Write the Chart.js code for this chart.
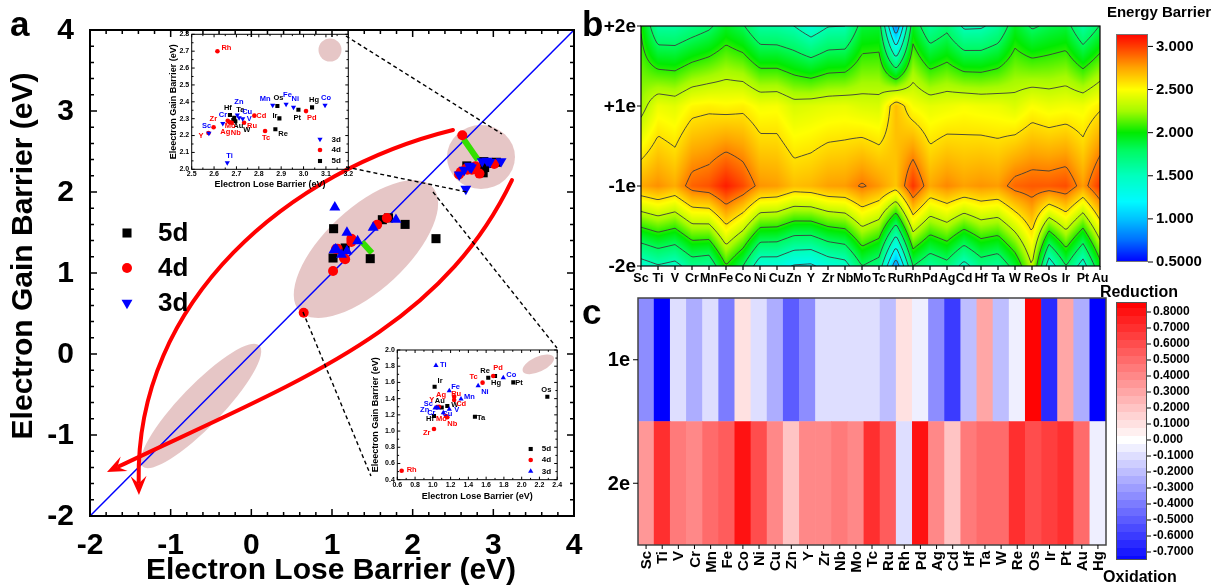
<!DOCTYPE html>
<html>
<head>
<meta charset="utf-8">
<title>Charge-state barriers of transition-metal dopants</title>
<script src="https://cdn.jsdelivr.net/npm/chart.js@4.4.1/dist/chart.umd.min.js"></script>
<style>
  html, body { margin: 0; padding: 0; background: #ffffff; }
  #figure { position: relative; width: 1212px; height: 586px; overflow: hidden; background: #ffffff; }
  #figure canvas { position: absolute; }
</style>
</head>
<body>
<div id="figure">
  <canvas id="panelA" width="590" height="586" style="left:0;top:0;width:590px;height:586px"></canvas>
  <canvas id="insetHigh" width="210" height="180" style="left:150px;top:20px;width:210px;height:180px"></canvas>
  <canvas id="insetLow" width="215" height="170" style="left:355px;top:335px;width:215px;height:170px"></canvas>
  <canvas id="panelB" width="637" height="292" style="left:575px;top:0;width:637px;height:292px"></canvas>
  <canvas id="panelC" width="637" height="306" style="left:575px;top:280px;width:637px;height:306px"></canvas>
</div>
<script>
const FONT = '"Liberation Sans", Arial, Helvetica, sans-serif';
const bold = px => `bold ${px}px ${FONT}`;

/* ---------- panel a : electron lose / gain barriers (eV) ---------- */
const el3d = ['Sc','Ti','V','Cr','Mn','Fe','Co','Ni','Cu','Zn'];
const el4d = ['Y','Zr','Nb','Mo','Tc','Ru','Rh','Pd','Ag','Cd'];
const el5d = ['Hf','Ta','W','Re','Os','Ir','Pt','Au','Hg'];

// upper group
const loseHi3d = [2.577,2.659,2.728,2.639,2.862,2.922,3.096,2.955,2.712,2.704];
const gainHi3d = [2.213,2.039,2.300,2.272,2.379,2.385,2.379,2.367,2.305,2.322];
const loseHi4d = [2.575,2.598,2.679,2.661,2.828,2.734,2.615,3.011,2.668,2.780];
const gainHi4d = [2.215,2.249,2.276,2.288,2.227,2.276,2.700,2.345,2.280,2.318];
const loseHi5d = [2.671,2.690,2.695,2.874,2.883,2.892,2.977,2.686,3.038];
const gainHi5d = [2.322,2.305,2.285,2.237,2.375,2.302,2.353,2.292,2.367];

// lower group
const loseLo3d = [1.043,1.035,1.185,1.060,1.317,1.185,1.793,1.510,1.118,1.025];
const gainLo3d = [1.292,1.810,1.270,1.285,1.395,1.498,1.658,1.560,1.226,1.283];
const loseLo4d = [1.050,1.013,1.163,1.148,1.560,1.240,0.649,1.680,1.070,1.240];
const gainLo4d = [1.295,1.025,1.170,1.185,1.597,1.424,0.510,1.680,1.300,1.383];
const loseLo5d = [1.013,1.474,1.163,1.624,2.289,1.020,1.906,1.100,1.700];
const gainLo5d = [1.185,1.177,1.309,1.658,1.424,1.547,1.600,1.290,1.680];

const ticksA = [-2,-1,0,1,2,3,4];

/* ---------- panel b : energy barrier vs charge state ---------- */
const elementsB = ['Sc','Ti','V','Cr','Mn','Fe','Co','Ni','Cu','Zn','Y','Zr','Nb','Mo','Tc','Ru','Rh','Pd','Ag','Cd','Hf','Ta','W','Re','Os','Ir','Pt','Au'];
const chargeTicks = ['-2e','-1e','+1e','+2e'];
const barrierPlus2  = [2.04,1.60,1.60,1.68,1.76,1.92,1.82,1.60,1.59,1.54,1.40,1.53,1.54,1.88,1.90,0.80,1.94,1.62,1.74,1.50,1.51,1.62,1.93,1.77,1.84,1.88,1.60,1.81];
const barrierPlus1  = [2.25,2.45,2.42,2.52,2.54,2.52,2.54,2.47,2.48,2.39,2.41,2.43,2.44,2.40,2.39,2.68,2.48,2.43,2.45,2.48,2.46,2.45,2.40,2.49,2.45,2.47,2.46,2.55];
const barrierMinus1 = [2.74,2.80,2.73,2.91,2.95,3.08,2.97,2.79,2.77,2.68,2.70,2.76,2.77,2.86,2.78,2.66,3.02,2.74,2.82,2.76,2.79,2.77,2.90,2.93,2.93,2.96,2.77,3.02];
const barrierMinus2 = [1.42,1.52,1.46,1.66,1.62,2.05,1.80,1.38,1.38,1.26,1.24,1.38,1.44,1.80,1.68,0.85,1.80,1.62,1.72,1.46,1.68,1.62,1.89,2.32,1.38,1.80,1.42,1.98];
const barrierLevels = [0.76,1.02,1.28,1.54,1.80,2.06,2.32,2.58,2.84];
const barrierBarTicks = [3.0,2.5,2.0,1.5,1.0,0.5];

/* ---------- panel c : reduction / oxidation shift ---------- */
const elementsC = ['Sc','Ti','V','Cr','Mn','Fe','Co','Ni','Cu','Zn','Y','Zr','Nb','Mo','Tc','Ru','Rh','Pd','Ag','Cd','Hf','Ta','W','Re','Os','Ir','Pt','Au','Hg'];
const rowsC = ['1e','2e'];
const shift1e = [-0.35,-0.80,-0.10,-0.25,-0.12,-0.40,0.10,-0.08,-0.27,-0.48,-0.33,-0.09,-0.09,-0.12,-0.08,-0.20,0.10,-0.03,-0.33,-0.58,-0.20,0.30,-0.20,-0.07,0.85,-0.65,0.30,-0.27,-0.80];
const shift2e = [0.35,0.70,0.45,0.40,0.52,0.55,0.82,0.62,0.42,0.22,0.38,0.38,0.43,0.42,0.70,0.57,-0.12,0.78,0.42,0.20,0.45,0.48,0.48,0.70,0.60,0.65,0.72,0.52,-0.03];
const shiftBarTicks = [0.8,0.7,0.6,0.5,0.4,0.3,0.2,0.1,0.0,-0.1,-0.2,-0.3,-0.4,-0.5,-0.6,-0.7];

/* ---------- helpers ---------- */
const pts = (xs, ys) => xs.map((v, i) => ({ x: v, y: ys[i] }));
const toPx = (chart, p) => ({ x: chart.scales.x.getPixelForValue(p[0]), y: chart.scales.y.getPixelForValue(p[1]) });
const range = (start, step, n) => Array.from({ length: n }, (_, k) => +(start + k * step).toFixed(6));

function drawMarker(ctx, style, radius, rotation, color, x, y) {
  ctx.fillStyle = color; ctx.strokeStyle = color;
  Chart.helpers.drawPoint(ctx, { pointStyle: style, radius, rotation, borderWidth: 0 }, x, y);
}

function baseOptions(padding) {
  return {
    responsive: false, animation: false, devicePixelRatio: 1,
    layout: { padding },
    plugins: { legend: { display: false }, tooltip: { enabled: false } },
    events: []
  };
}

/* ================= panel a ================= */
const blobsA = [
  { c: [2.847, 2.432], rx: 34, ry: 32, rot: 0 },
  { c: [1.421, 1.296], rx: 91, ry: 41, rot: -43 },
  { c: [-0.624, -0.642], rx: 84, ry: 21, rot: -46 }
];
const guideSegments = [
  [[2.632, 2.651], [2.810, 2.395]],
  [[1.372, 1.383], [1.496, 1.247]]
];
const zoomLinks = [
  [[1.173, 3.926], [3.107, 2.716]],
  [[1.173, 2.309], [2.673, 2.000]],
  [[0.640, 0.519], [1.483, -1.506]],
  [[2.252, 2.000], [3.789, 0.074]]
];
const trendArcs = [
  [[2.500, 2.765], [0.479, 2.272], [-1.442, 0.667], [-1.393, -1.741]],
  [[3.231, 2.148], [2.339, 0.296], [0.603, -0.321], [-1.789, -1.457]]
];

const decorA = {
  id: 'decorA',
  beforeDatasetsDraw(chart) {
    const ctx = chart.ctx;
    ctx.save();
    ctx.fillStyle = 'rgba(200,128,128,0.45)';
    blobsA.forEach(b => {
      const p = toPx(chart, b.c);
      ctx.beginPath();
      ctx.ellipse(p.x, p.y, b.rx, b.ry, b.rot * Math.PI / 180, 0, Math.PI * 2);
      ctx.fill();
    });
    ctx.restore();
  },
  afterDatasetDraw(chart, args) {
    if (chart.data.datasets[args.index].label !== 'y = x') return;
    const ctx = chart.ctx;
    ctx.save();
    ctx.strokeStyle = '#33e000'; ctx.lineWidth = 6; ctx.lineCap = 'butt';
    guideSegments.forEach(s => {
      const a = toPx(chart, s[0]), b = toPx(chart, s[1]);
      ctx.beginPath(); ctx.moveTo(a.x, a.y); ctx.lineTo(b.x, b.y); ctx.stroke();
    });
    ctx.restore();
  },
  afterDatasetsDraw(chart) {
    const ctx = chart.ctx;
    ctx.save();
    // curved trend arrows
    ctx.strokeStyle = '#ff0000'; ctx.fillStyle = '#ff0000';
    ctx.lineWidth = 4; ctx.lineCap = 'round';
    trendArcs.forEach(arc => {
      const [p0, p1, p2, p3] = arc.map(p => toPx(chart, p));
      const ang = Math.atan2(p3.y - p2.y, p3.x - p2.x);
      const len = 19, half = 8;
      const bx = p3.x - Math.cos(ang) * len * 0.7, by = p3.y - Math.sin(ang) * len * 0.7;
      ctx.beginPath(); ctx.moveTo(p0.x, p0.y);
      ctx.bezierCurveTo(p1.x, p1.y, p2.x, p2.y, bx, by); ctx.stroke();
      const baseX = p3.x - Math.cos(ang) * len, baseY = p3.y - Math.sin(ang) * len;
      ctx.beginPath();
      ctx.moveTo(p3.x, p3.y);
      ctx.lineTo(baseX + Math.sin(ang) * half, baseY - Math.cos(ang) * half);
      ctx.lineTo(p3.x - Math.cos(ang) * len * 0.6, p3.y - Math.sin(ang) * len * 0.6);
      ctx.lineTo(baseX - Math.sin(ang) * half, baseY + Math.cos(ang) * half);
      ctx.closePath(); ctx.fill();
    });
    // dashed zoom links
    ctx.strokeStyle = '#000000'; ctx.lineWidth = 1.4; ctx.lineCap = 'butt';
    ctx.setLineDash([4, 3]);
    zoomLinks.forEach(s => {
      const a = toPx(chart, s[0]), b = toPx(chart, s[1]);
      ctx.beginPath(); ctx.moveTo(a.x, a.y); ctx.lineTo(b.x, b.y); ctx.stroke();
    });
    ctx.restore();
  },
  afterDraw(chart) {
    const { ctx, chartArea: a, scales: { x, y } } = chart;
    ctx.save();
    ctx.strokeStyle = '#000'; ctx.lineWidth = 2;
    ctx.strokeRect(a.left, a.top, a.right - a.left, a.bottom - a.top);
    ctx.lineWidth = 1.5;
    for (let k = 0; k <= 30; k++) {
      const v = -2 + k * 0.2, len = k % 5 === 0 ? 7 : 4;
      const px = x.getPixelForValue(v), py = y.getPixelForValue(v);
      ctx.beginPath();
      ctx.moveTo(px, a.bottom); ctx.lineTo(px, a.bottom - len);
      ctx.moveTo(px, a.top); ctx.lineTo(px, a.top + len);
      ctx.moveTo(a.left, py); ctx.lineTo(a.left + len, py);
      ctx.moveTo(a.right, py); ctx.lineTo(a.right - len, py);
      ctx.stroke();
    }
    ctx.fillStyle = '#000';
    ctx.font = bold(30);
    ctx.textAlign = 'right'; ctx.textBaseline = 'middle';
    ticksA.forEach(v => ctx.fillText(String(v), a.left - 16, y.getPixelForValue(v) + 1));
    ctx.textAlign = 'center';
    ticksA.forEach(v => ctx.fillText(String(v), x.getPixelForValue(v), a.bottom + 30));
    ctx.fillText('Electron Lose Barrier (eV)', 331, 571);
    ctx.save();
    ctx.translate(24, 256); ctx.rotate(-Math.PI / 2);
    ctx.fillText('Electron Gain Barrier (eV)', 0, 0);
    ctx.restore();
    // legend
    const legend = [
      { t: '5d', s: 'rect', r: 6.4, rot: 0, c: '#000000' },
      { t: '4d', s: 'circle', r: 5, rot: 0, c: '#ff0000' },
      { t: '3d', s: 'triangle', r: 6.3, rot: 180, c: '#0000ff' }
    ];
    legend.forEach((it, i) => {
      const ly = 233 + i * 35;
      drawMarker(ctx, it.s, it.r, it.rot, it.c, 127, ly);
      ctx.fillStyle = '#000'; ctx.font = bold(26);
      ctx.textAlign = 'left'; ctx.textBaseline = 'middle';
      ctx.fillText(it.t, 158, ly + 1);
    });
    ctx.font = bold(35); ctx.textBaseline = 'alphabetic'; ctx.textAlign = 'left';
    ctx.fillText('a', 10, 36);
    ctx.restore();
  }
};

const rotHi = el3d.map(() => 180), rotLo = el3d.map(() => 0);
new Chart(document.getElementById('panelA'), {
  type: 'scatter',
  data: {
    datasets: [
      { label: '5d', data: pts(loseHi5d, gainHi5d).concat(pts(loseLo5d, gainLo5d)),
        pointStyle: 'rect', pointRadius: 6.4, pointBackgroundColor: '#000', pointBorderColor: '#000', pointBorderWidth: 0, order: 3 },
      { label: '4d', data: pts(loseHi4d, gainHi4d).concat(pts(loseLo4d, gainLo4d)),
        pointStyle: 'circle', pointRadius: 5, pointBackgroundColor: '#ff0000', pointBorderColor: '#ff0000', pointBorderWidth: 0, order: 2 },
      { label: '3d', data: pts(loseHi3d, gainHi3d).concat(pts(loseLo3d, gainLo3d)),
        pointStyle: 'triangle', pointRadius: 6.3, pointRotation: rotHi.concat(rotLo),
        pointBackgroundColor: '#0000ff', pointBorderColor: '#0000ff', pointBorderWidth: 0, order: 1 },
      { label: 'y = x', type: 'line', data: [{ x: -2, y: -2 }, { x: 4, y: 4 }],
        borderColor: '#0000ff', borderWidth: 1.5, pointRadius: 0, order: 5 }
    ]
  },
  options: Object.assign(baseOptions({ left: 90, top: 30, right: 16, bottom: 70 }), {
    scales: {
      x: { type: 'linear', display: false, min: -2, max: 4 },
      y: { type: 'linear', display: false, min: -2, max: 4 }
    }
  }),
  plugins: [decorA]
});

/* ---------- insets of panel a ---------- */
const insetHighLabels = { Rh:[4,-3], Zr:[-4,-8], Sc:[-7,-7], Y:[-10,3], Cr:[-4,-8], Hf:[-6,-7], Ta:[2,-8], Zn:[-3,-13], Cu:[3,-6], V:[4,0],
  Mo:[-3,5], Ag:[-9,10], Nb:[-1,10], Au:[0,6], W:[8,9], Ru:[3,3], Cd:[2,0], Tc:[-3,7], Mn:[-13,-6], Os:[-4,-8], Fe:[-3,-9], Ni:[-2,-8],
  Ir:[-7,-2], Re:[3,5], Pt:[-5,8], Pd:[1,7], Hg:[-3,-7], Co:[-4,-7], Ti:[-1,-7] };
const insetLowLabels = { Ti:[4,0], Ir:[3,-6], Re:[-8,-7], Pd:[0,-8], Tc:[-13,-6], Co:[3,-3], Hg:[-4,7], Pt:[2,1], Os:[-6,-7], Ni:[3,6],
  Fe:[2,-4], Mn:[3,-2], Ag:[-3,-12], Ru:[-3,-3], Cd:[2,4], Y:[-8,-7], Au:[-7,-7], Sc:[-13,-3], W:[4,-1], V:[5,1], Cu:[-1,1],
  Zn:[-15,2], Cr:[-11,5], Hf:[-8,3], Mo:[-10,3], Nb:[0,7], Zr:[-11,4], Ta:[2,1], Rh:[5,-1] };

function buildInset(canvasId, o) {
  const series = [
    { label: '5d', xs: o.lose[2], ys: o.gain[2], names: el5d, color: '#000000', style: 'rect', r: 2.9, rot: 0 },
    { label: '4d', xs: o.lose[1], ys: o.gain[1], names: el4d, color: '#ff0000', style: 'circle', r: 2.3, rot: 0 },
    { label: '3d', xs: o.lose[0], ys: o.gain[0], names: el3d, color: '#0000ff', style: 'triangle', r: 3.0, rot: o.triRot }
  ];
  const deco = {
    id: 'insetDeco',
    beforeDatasetsDraw(chart) {
      const ctx = chart.ctx; ctx.save();
      ctx.fillStyle = 'rgba(200,128,128,0.45)';
      ctx.beginPath();
      ctx.ellipse(o.blob.x, o.blob.y, o.blob.rx, o.blob.ry, o.blob.rot * Math.PI / 180, 0, Math.PI * 2);
      ctx.fill(); ctx.restore();
    },
    afterDatasetsDraw(chart) {
      const ctx = chart.ctx; ctx.save();
      ctx.font = bold(7.5); ctx.textAlign = 'left'; ctx.textBaseline = 'middle';
      series.forEach(s => {
        ctx.fillStyle = s.color;
        s.names.forEach((n, i) => {
          const p = toPx(chart, [s.xs[i], s.ys[i]]);
          const off = o.labels[n] || [3, 0];
          ctx.fillText(n, p.x + off[0], p.y + off[1]);
        });
      });
      ctx.restore();
    },
    afterDraw(chart) {
      const { ctx, chartArea: a, scales: { x, y } } = chart;
      ctx.save();
      ctx.strokeStyle = '#000'; ctx.lineWidth = 1;
      ctx.strokeRect(a.left, a.top, a.right - a.left, a.bottom - a.top);
      ctx.beginPath();
      o.xMinor.forEach((v, k) => {
        const px = x.getPixelForValue(v), len = k % 2 === 0 ? 3 : 1.8;
        ctx.moveTo(px, a.bottom); ctx.lineTo(px, a.bottom - len);
        ctx.moveTo(px, a.top); ctx.lineTo(px, a.top + len);
      });
      o.yMinor.forEach((v, k) => {
        const py = y.getPixelForValue(v), len = k % 2 === 0 ? 3 : 1.8;
        ctx.moveTo(a.left, py); ctx.lineTo(a.left + len, py);
        ctx.moveTo(a.right, py); ctx.lineTo(a.right - len, py);
      });
      ctx.stroke();
      ctx.fillStyle = '#000'; ctx.font = bold(7);
      ctx.textAlign = 'center'; ctx.textBaseline = 'middle';
      o.xTicks.forEach(v => ctx.fillText(v.toFixed(1), x.getPixelForValue(v), a.bottom + 5));
      ctx.textAlign = 'right';
      o.yTicks.forEach(v => ctx.fillText(v.toFixed(1), a.left - 2.5, y.getPixelForValue(v)));
      ctx.font = bold(9); ctx.textAlign = 'center';
      ctx.fillText('Electron Lose Barrier (eV)', (a.left + a.right) / 2, o.xTitleY);
      ctx.save();
      ctx.translate(o.yTitleX, (a.top + a.bottom) / 2); ctx.rotate(-Math.PI / 2);
      ctx.fillText('Eleectron Gain Barrier (eV)', 0, 0);
      ctx.restore();
      o.legendOrder.forEach((lab, i) => {
        const s = series.find(q => q.label === lab);
        const ly = o.legend.y[i];
        drawMarker(ctx, s.style, s.r, s.rot, s.color, o.legend.x, ly);
        ctx.fillStyle = '#000'; ctx.font = bold(8); ctx.textAlign = 'left'; ctx.textBaseline = 'middle';
        ctx.fillText(lab, o.legend.tx, ly);
      });
      ctx.restore();
    }
  };
  new Chart(document.getElementById(canvasId), {
    type: 'scatter',
    data: {
      datasets: series.map((s, k) => ({
        label: s.label, data: pts(s.xs, s.ys), pointStyle: s.style, pointRadius: s.r, pointRotation: s.rot,
        pointBackgroundColor: s.color, pointBorderColor: s.color, pointBorderWidth: 0, order: 3 - k
      }))
    },
    options: Object.assign(baseOptions(o.pad), {
      scales: {
        x: { type: 'linear', display: false, min: o.xMin, max: o.xMax },
        y: { type: 'linear', display: false, min: o.yMin, max: o.yMax }
      }
    }),
    plugins: [deco]
  });
}

buildInset('insetHigh', {
  lose: [loseHi3d, loseHi4d, loseHi5d], gain: [gainHi3d, gainHi4d, gainHi5d],
  triRot: 180, labels: insetHighLabels,
  pad: { left: 41.7, top: 14.3, right: 11.7, bottom: 30.7 },
  xMin: 2.5, xMax: 3.2, yMin: 2.0, yMax: 2.8,
  xTicks: range(2.5, 0.1, 8), yTicks: range(2.0, 0.1, 9),
  xMinor: range(2.5, 0.05, 15), yMinor: range(2.0, 0.05, 17),
  xTitleY: 165, yTitleX: 23.5,
  blob: { x: 180, y: 30, rx: 11.5, ry: 11.5, rot: 0 },
  legendOrder: ['3d', '4d', '5d'], legend: { x: 170, tx: 181.5, y: [119.3, 130, 141] }
});

buildInset('insetLow', {
  lose: [loseLo3d, loseLo4d, loseLo5d], gain: [gainLo3d, gainLo4d, gainLo5d],
  triRot: 0, labels: insetLowLabels,
  pad: { left: 42.3, top: 15, right: 12.8, bottom: 25.3 },
  xMin: 0.6, xMax: 2.4, yMin: 0.4, yMax: 2.0,
  xTicks: range(0.6, 0.2, 10), yTicks: range(0.4, 0.2, 9),
  xMinor: range(0.6, 0.1, 19), yMinor: range(0.4, 0.1, 17),
  xTitleY: 161.7, yTitleX: 21,
  blob: { x: 183.3, y: 29.3, rx: 17, ry: 7.5, rot: -25 },
  legendOrder: ['5d', '4d', '3d'], legend: { x: 175.7, tx: 186.7, y: [114, 125, 136.3] }
});

/* ================= panel b ================= */
const barrierStops = [
  [0.50, [0, 0, 255]], [0.75, [0, 110, 255]], [1.00, [0, 195, 255]], [1.20, [0, 250, 255]],
  [1.50, [0, 255, 190]], [1.80, [0, 250, 95]], [2.00, [0, 235, 0]], [2.25, [165, 250, 0]],
  [2.50, [255, 255, 0]], [2.75, [255, 165, 0]], [3.00, [255, 60, 0]], [3.15, [255, 0, 0]]
];
function lerpColor(stops, v) {
  if (v <= stops[0][0]) return stops[0][1];
  for (let i = 1; i < stops.length; i++) {
    if (v <= stops[i][0]) {
      const [v0, c0] = stops[i - 1], [v1, c1] = stops[i];
      const t = (v - v0) / (v1 - v0);
      return [0, 1, 2].map(k => Math.round(c0[k] + (c1[k] - c0[k]) * t));
    }
  }
  return stops[stops.length - 1][1];
}
const barrierRows = [barrierMinus2, barrierMinus1, barrierPlus1, barrierPlus2];
function barrierAt(xv, yv) {
  const n = elementsB.length;
  xv = Math.max(0, Math.min(n - 1, xv)); yv = Math.max(0, Math.min(3, yv));
  const i = Math.min(Math.floor(xv), n - 2), j = Math.min(Math.floor(yv), 2);
  const fx = xv - i, fy = yv - j;
  const r0 = barrierRows[j], r1 = barrierRows[j + 1];
  const lo = r0[i] + (r0[i + 1] - r0[i]) * fx, hi = r1[i] + (r1[i + 1] - r1[i]) * fx;
  return lo + (hi - lo) * fy;
}

const contourPlugin = {
  id: 'contourMap',
  beforeDatasetsDraw(chart) {
    const { ctx, chartArea: a, scales: { x, y } } = chart;
    const L = Math.round(a.left), T = Math.round(a.top);
    const W = Math.round(a.right) - L, H = Math.round(a.bottom) - T;
    const img = ctx.createImageData(W, H);
    const xs = [], ys = [];
    for (let i = 0; i < W; i++) xs.push(x.getValueForPixel(L + i + 0.5));
    for (let j = 0; j < H; j++) ys.push(y.getValueForPixel(T + j + 0.5));
    for (let j = 0; j < H; j++) {
      for (let i = 0; i < W; i++) {
        const c = lerpColor(barrierStops, barrierAt(xs[i], ys[j]));
        const o = (j * W + i) * 4;
        img.data[o] = c[0]; img.data[o + 1] = c[1]; img.data[o + 2] = c[2]; img.data[o + 3] = 255;
      }
    }
    ctx.putImageData(img, L, T);

    // iso-lines by marching squares
    const step = 2;
    const nx = Math.ceil((a.right - a.left) / step) + 1, ny = Math.ceil((a.bottom - a.top) / step) + 1;
    const gx = i => Math.min(a.left + i * step, a.right), gy = j => Math.min(a.top + j * step, a.bottom);
    const g = new Float32Array(nx * ny);
    for (let j = 0; j < ny; j++)
      for (let i = 0; i < nx; i++)
        g[j * nx + i] = barrierAt(x.getValueForPixel(gx(i)), y.getValueForPixel(gy(j)));
    ctx.save();
    ctx.beginPath(); ctx.rect(a.left, a.top, a.right - a.left, a.bottom - a.top); ctx.clip();
    ctx.strokeStyle = '#3c3c3c'; ctx.lineWidth = 0.9;
    ctx.beginPath();
    const seg = (p, q) => { ctx.moveTo(p[0], p[1]); ctx.lineTo(q[0], q[1]); };
    barrierLevels.forEach(lev => {
      for (let j = 0; j < ny - 1; j++) {
        for (let i = 0; i < nx - 1; i++) {
          const tl = g[j * nx + i], tr = g[j * nx + i + 1], br = g[(j + 1) * nx + i + 1], bl = g[(j + 1) * nx + i];
          const code = (tl > lev ? 8 : 0) | (tr > lev ? 4 : 0) | (br > lev ? 2 : 0) | (bl > lev ? 1 : 0);
          if (code === 0 || code === 15) continue;
          const x0 = gx(i), x1 = gx(i + 1), y0 = gy(j), y1 = gy(j + 1);
          const top = () => [x0 + (x1 - x0) * (lev - tl) / (tr - tl), y0];
          const right = () => [x1, y0 + (y1 - y0) * (lev - tr) / (br - tr)];
          const bottom = () => [x0 + (x1 - x0) * (lev - bl) / (br - bl), y1];
          const left = () => [x0, y0 + (y1 - y0) * (lev - tl) / (bl - tl)];
          switch (code) {
            case 1: case 14: seg(left(), bottom()); break;
            case 2: case 13: seg(bottom(), right()); break;
            case 3: case 12: seg(left(), right()); break;
            case 4: case 11: seg(top(), right()); break;
            case 5: seg(left(), top()); seg(bottom(), right()); break;
            case 6: case 9: seg(top(), bottom()); break;
            case 7: case 8: seg(left(), top()); break;
            case 10: seg(top(), right()); seg(left(), bottom()); break;
          }
        }
      }
    });
    ctx.stroke();
    ctx.restore();
  },
  afterDraw(chart) {
    const { ctx, chartArea: a, scales: { x, y } } = chart;
    ctx.save();
    ctx.strokeStyle = '#000'; ctx.lineWidth = 1.2;
    ctx.strokeRect(a.left, a.top, a.right - a.left, a.bottom - a.top);
    ctx.beginPath();
    chargeTicks.forEach((t, j) => { const py = y.getPixelForValue(j); ctx.moveTo(a.left - 4, py); ctx.lineTo(a.left, py); });
    elementsB.forEach((t, i) => { const px = x.getPixelForValue(i); ctx.moveTo(px, a.bottom); ctx.lineTo(px, a.bottom + 4); });
    ctx.stroke();
    ctx.fillStyle = '#000';
    ctx.font = bold(19); ctx.textAlign = 'right'; ctx.textBaseline = 'middle';
    chargeTicks.forEach((t, j) => ctx.fillText(t, a.left - 5, y.getPixelForValue(j) + 1));
    ctx.font = bold(12.5); ctx.textAlign = 'center';
    elementsB.forEach((t, i) => ctx.fillText(t, x.getPixelForValue(i), a.bottom + 13));

    // colour bar
    const cb = { l: 541, r: 573, t: 34, b: 262, vTop: 3.144, vBot: 0.5 };
    const vy = v => cb.b - (v - cb.vBot) / (cb.vTop - cb.vBot) * (cb.b - cb.t);
    for (let py = cb.t; py < cb.b; py++) {
      const v = cb.vTop - (py + 0.5 - cb.t) / (cb.b - cb.t) * (cb.vTop - cb.vBot);
      const c = lerpColor(barrierStops, v);
      ctx.fillStyle = `rgb(${c[0]},${c[1]},${c[2]})`;
      ctx.fillRect(cb.l, py, cb.r - cb.l, 1);
    }
    ctx.strokeStyle = '#777'; ctx.lineWidth = 1;
    ctx.strokeRect(cb.l + 0.5, cb.t + 0.5, cb.r - cb.l - 1, cb.b - cb.t - 1);
    ctx.strokeStyle = '#000'; ctx.beginPath();
    barrierBarTicks.forEach(v => { ctx.moveTo(cb.r, vy(v)); ctx.lineTo(cb.r + 5, vy(v)); });
    ctx.stroke();
    ctx.fillStyle = '#000'; ctx.font = bold(15); ctx.textAlign = 'left'; ctx.textBaseline = 'middle';
    barrierBarTicks.forEach(v => ctx.fillText(v === 0.5 ? '0.5000' : v.toFixed(3), cb.r + 8, vy(v)));
    ctx.textAlign = 'center';
    ctx.fillText('Energy Barrier', 584, 13);
    ctx.font = bold(35); ctx.textAlign = 'left'; ctx.textBaseline = 'alphabetic';
    ctx.fillText('b', 7, 36);
    ctx.restore();
  }
};

new Chart(document.getElementById('panelB'), {
  type: 'scatter',
  data: { datasets: [] },
  options: Object.assign(baseOptions({ left: 66, top: 26, right: 112, bottom: 26 }), {
    scales: {
      x: { type: 'linear', display: false, min: 0, max: elementsB.length - 1 },
      y: { type: 'linear', display: false, min: 0, max: 3 }
    }
  }),
  plugins: [contourPlugin]
});

/* ================= panel c ================= */
const SHIFT_TOP = 0.86, SHIFT_BOTTOM = -0.78;
function shiftColor(v) {
  const q = Math.round(v / 0.05) * 0.05;
  if (q >= 0) {
    const t = Math.min(q / SHIFT_TOP, 1), g = Math.round(255 * (1 - t));
    return `rgb(255,${g},${g})`;
  }
  const t = Math.min(q / SHIFT_BOTTOM, 1), g = Math.round(255 * (1 - t));
  return `rgb(${g},${g},255)`;
}

const heatFrame = {
  id: 'heatFrame',
  afterDraw(chart) {
    const { ctx, chartArea: a, scales: { x, y } } = chart;
    ctx.save();
    ctx.strokeStyle = '#444'; ctx.lineWidth = 1.5;
    ctx.strokeRect(a.left, a.top, a.right - a.left, a.bottom - a.top);
    ctx.strokeStyle = '#000'; ctx.lineWidth = 1;
    ctx.beginPath();
    const rowY = [y.getPixelForValue(1.5), y.getPixelForValue(0.5)];
    rowY.forEach(py => { ctx.moveTo(a.left - 5, py); ctx.lineTo(a.left, py); });
    elementsC.forEach((t, i) => { const px = x.getPixelForValue(i); ctx.moveTo(px, a.bottom); ctx.lineTo(px, a.bottom + 4); });
    ctx.stroke();
    ctx.fillStyle = '#000';
    ctx.font = bold(20); ctx.textAlign = 'right'; ctx.textBaseline = 'middle';
    rowsC.forEach((t, k) => ctx.fillText(t, a.left - 8, rowY[k] + 1));
    ctx.font = bold(15);
    elementsC.forEach((t, i) => {
      ctx.save();
      ctx.translate(x.getPixelForValue(i) + 1, a.bottom + 6);
      ctx.rotate(-Math.PI / 2);
      ctx.textAlign = 'right'; ctx.textBaseline = 'middle';
      ctx.fillText(t, 0, 0);
      ctx.restore();
    });

    // banded colour bar
    const cb = { l: 541, r: 572, t: 22, b: 280 };
    const perUnit = 160, zeroY = 32 + 0.8 * perUnit;
    const vy = v => zeroY - v * perUnit;
    for (let py = cb.t; py < cb.b; py++) {
      const v = (zeroY - (py + 0.5)) / perUnit;
      ctx.fillStyle = shiftColor(v);
      ctx.fillRect(cb.l, py, cb.r - cb.l, 1);
    }
    ctx.strokeStyle = '#555'; ctx.lineWidth = 1;
    ctx.strokeRect(cb.l + 0.5, cb.t + 0.5, cb.r - cb.l - 1, cb.b - cb.t - 1);
    ctx.strokeStyle = '#000'; ctx.beginPath();
    shiftBarTicks.forEach(v => { ctx.moveTo(cb.r, vy(v)); ctx.lineTo(cb.r + 4, vy(v)); });
    ctx.stroke();
    ctx.fillStyle = '#000'; ctx.font = bold(12); ctx.textAlign = 'left'; ctx.textBaseline = 'middle';
    shiftBarTicks.forEach(v => ctx.fillText(v === 0 ? '0.000' : v.toFixed(4), cb.r + 6, vy(v)));
    ctx.font = bold(16); ctx.textAlign = 'center';
    ctx.fillText('Reduction', 564, 13);
    ctx.fillText('Oxidation', 565, 298);
    ctx.font = bold(35); ctx.textAlign = 'left'; ctx.textBaseline = 'alphabetic';
    ctx.fillText('c', 7, 44);
    ctx.restore();
  }
};

new Chart(document.getElementById('panelC'), {
  type: 'bar',
  data: {
    labels: elementsC,
    datasets: [
      { label: '2e', data: elementsC.map(() => 1), backgroundColor: shift2e.map(shiftColor), borderWidth: 0,
        barPercentage: 1, categoryPercentage: 1, stack: 'cells' },
      { label: '1e', data: elementsC.map(() => 1), backgroundColor: shift1e.map(shiftColor), borderWidth: 0,
        barPercentage: 1, categoryPercentage: 1, stack: 'cells' }
    ]
  },
  options: Object.assign(baseOptions({ left: 63, top: 18, right: 106, bottom: 41 }), {
    scales: {
      x: { type: 'category', display: false, stacked: true },
      y: { type: 'linear', display: false, stacked: true, min: 0, max: 2 }
    }
  }),
  plugins: [heatFrame]
});
</script>
</body>
</html>
